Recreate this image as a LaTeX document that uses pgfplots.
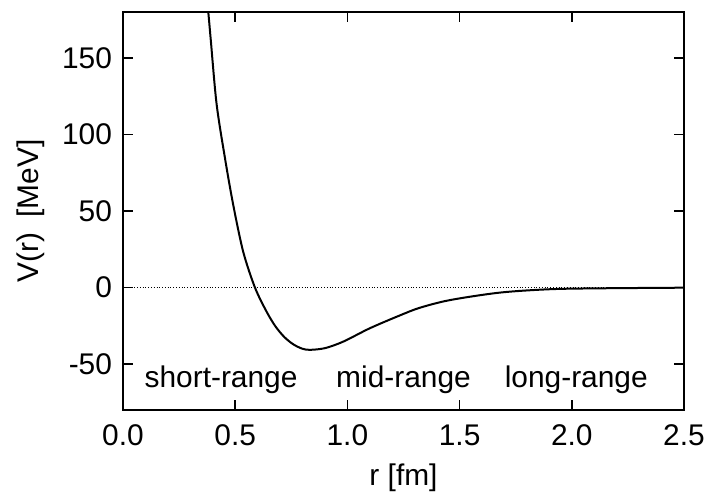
\documentclass[border=0pt]{standalone}
\usepackage{pgfplots}
\pgfplotsset{compat=1.18}
\usepackage{fontspec}
\setmainfont{Liberation Sans}
\begin{document}
\begin{tikzpicture}[x=1bp,y=1bp]
\useasboundingbox (0,0) rectangle (352,248);
\begin{axis}[
  at={(61.5bp,43bp)}, anchor=south west,
  scale only axis, width=280.5bp, height=199bp,
  xmin=0, xmax=2.5, ymin=-80, ymax=180,
  xtick={0,0.5,1,1.5,2,2.5},
  ytick={-50,0,50,100,150},
  xticklabels={0.0,0.5,1.0,1.5,2.0,2.5},
  tick align=inside, major tick length=5bp,
  axis line style={line width=1bp},
  every tick/.style={line width=0.8bp, black},
  tick label style={font=\fontsize{15}{17}\selectfont},
  /pgf/number format/assume math mode=true,
  xticklabel style={yshift=-4bp},
  yticklabel style={xshift=-2bp},
  xlabel={r [fm]}, ylabel={V(r)\enspace[MeV]},
  label style={font=\fontsize{15}{17}\selectfont},
  xlabel style={yshift=-2bp},
  ylabel style={yshift=2bp},
  clip=true,
]
\addplot[densely dotted, line width=0.4bp, black] coordinates {(0,0) (2.5,0)};
\addplot[black, line width=1bp, smooth, tension=0.5] coordinates {
(0.366,200) (0.380,180) (0.391,162) (0.417,120) (0.455,84) (0.492,53.4)
(0.536,23.2) (0.588,0) (0.640,-15.8) (0.68,-25.5) (0.72,-32.5) (0.76,-37.2)
(0.80,-40) (0.833,-40.7)
(0.90,-39.6) (0.982,-35.3) (1.10,-26.6) (1.234,-18.2) (1.323,-13.2) (1.457,-8.2)
(1.68,-3.3) (1.903,-1.1) (2.13,-0.5) (2.5,-0.1)
};
\node[font=\fontsize{15}{17}\selectfont] at (axis cs:0.437,-60) {short-range};
\node[font=\fontsize{15}{17}\selectfont] at (axis cs:1.25,-60) {mid-range};
\node[font=\fontsize{15}{17}\selectfont] at (axis cs:2.02,-60) {long-range};
\end{axis}
\end{tikzpicture}
\end{document}
